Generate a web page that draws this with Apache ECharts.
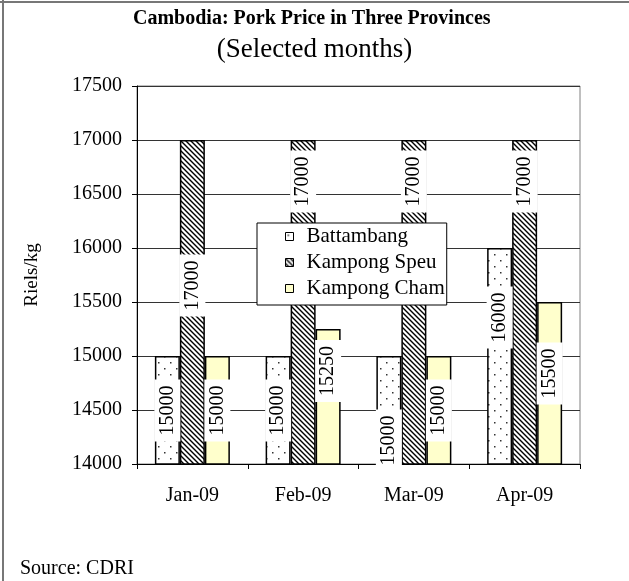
<!DOCTYPE html>
<html>
<head>
<meta charset="utf-8">
<script src="https://cdn.jsdelivr.net/npm/echarts@6/dist/echarts.min.js"></script>
<style>
    html, body {margin: 0; padding: 0; background: #fff;}
    #pork {width: 629px; height: 581px;}
</style>
</head>
<body>
<div id="pork"></div>
<script>
const months = ['Jan-09', 'Feb-09', 'Mar-09', 'Apr-09'];
const battambang = [15000, 15000, 15000, 16000];
const kampongSpeu = [17000, 17000, 17000, 17000];
const kampongCham = [15000, 15250, 15000, 15500];
const yTicks = [14000, 14500, 15000, 15500, 16000, 16500, 17000, 17500];

// vertical shift of each value label (px, down is positive), moved by hand in the original
const battShift = [0, 0, 30, -39];
const speuShift = [-17, -121, -121, -121];
const chamShift = [0, -26, 0, -10];

const font = 'Liberation Serif, Times New Roman, serif';

// fill patterns
function dotPattern() {
    const c = document.createElement('canvas');
    c.width = 12; c.height = 12;
    const ctx = c.getContext('2d');
    ctx.fillStyle = '#fff';
    ctx.fillRect(0, 0, 12, 12);
    ctx.fillStyle = '#333';
    ctx.fillRect(2, 2, 1.5, 1.5);
    ctx.fillRect(8, 8, 1.5, 1.5);
    return c;
}

function hatchPattern() {
    const c = document.createElement('canvas');
    c.width = 5; c.height = 5;
    const ctx = c.getContext('2d');
    ctx.fillStyle = '#fff';
    ctx.fillRect(0, 0, 5, 5);
    ctx.strokeStyle = '#000';
    ctx.lineWidth = 1.4;
    ctx.beginPath();
    ctx.moveTo(-1, -1); ctx.lineTo(6, 6);
    ctx.moveTo(-1, 4); ctx.lineTo(1, 6);
    ctx.moveTo(4, -1); ctx.lineTo(6, 1);
    ctx.stroke();
    return c;
}

// label is rotated 90deg, so its offset is in the rotated frame: x points up
function withLabels(values, shifts) {
    return values.map((v, i) => ({
        value: v,
        label: {offset: [-shifts[i], 0]}
    }));
}

const label = {
    show: true,
    position: 'inside',
    rotate: 90,
    color: '#000',
    fontFamily: font,
    fontSize: 20,
    backgroundColor: '#fff',
    padding: [3, 6]
};

const barStyle = (fill) => ({
    color: fill,
    borderColor: '#000',
    borderWidth: 1.5
});

const chart = echarts.init(document.getElementById('pork'));
chart.setOption({
    animation: false,
    backgroundColor: '#fff',
    title: [{
        text: 'Cambodia: Pork Price in Three Provinces',
        left: 128,
        top: 4,
        textStyle: {fontFamily: font, fontSize: 20, fontWeight: 'bold', color: '#000'}
    }, {
        text: '(Selected months)',
        left: 'center',
        top: 31,
        textStyle: {fontFamily: font, fontSize: 27, fontWeight: 'normal', color: '#000'}
    }],
    legend: {
        orient: 'vertical',
        left: 257,
        top: 223,
        padding: [3, 2, 6, 28],
        itemGap: 5,
        itemWidth: 8,
        itemHeight: 8,
        icon: 'rect',
        backgroundColor: '#fff',
        borderColor: '#000',
        borderWidth: 1,
        itemStyle: {borderColor: '#000', borderWidth: 1},
        textStyle: {fontFamily: font, fontSize: 21, color: '#000', padding: [0, 0, 0, 8]},
        data: ['Battambang', 'Kampong Speu', 'Kampong Cham']
    },
    grid: {
        left: 137,
        right: 49,
        top: 86,
        bottom: 117,
        show: true,
        borderColor: '#808080',
        borderWidth: 1
    },
    xAxis: {
        type: 'category',
        data: months,
        axisLine: {lineStyle: {color: '#000', width: 1}},
        axisTick: {show: true, length: 5, lineStyle: {color: '#000'}},
        axisLabel: {fontFamily: font, fontSize: 20, color: '#000', margin: 22}
    },
    yAxis: {
        type: 'value',
        min: yTicks[0],
        max: yTicks[yTicks.length - 1],
        interval: 500,
        name: 'Riels/kg',
        nameLocation: 'middle',
        nameGap: 95,
        nameTextStyle: {fontFamily: font, fontSize: 19, color: '#000'},
        axisLine: {show: true, lineStyle: {color: '#000', width: 1}},
        axisTick: {show: true, length: 5, lineStyle: {color: '#000'}},
        axisLabel: {
            fontFamily: font, fontSize: 20, color: '#000', margin: 15,
            formatter: (v) => String(v)
        },
        splitLine: {lineStyle: {color: '#333', width: 1}}
    },
    series: [{
        name: 'Battambang',
        type: 'bar',
        barWidth: 25,
        barGap: '0%',
        itemStyle: barStyle({image: dotPattern(), repeat: 'repeat'}),
        label: label,
        data: withLabels(battambang, battShift)
    }, {
        name: 'Kampong Speu',
        type: 'bar',
        barWidth: 25,
        barGap: '0%',
        itemStyle: barStyle({image: hatchPattern(), repeat: 'repeat'}),
        label: label,
        data: withLabels(kampongSpeu, speuShift)
    }, {
        name: 'Kampong Cham',
        type: 'bar',
        barWidth: 25,
        barGap: '0%',
        itemStyle: barStyle('#ffffcc'),
        label: label,
        data: withLabels(kampongCham, chamShift)
    }],
    graphic: [{
        type: 'line',
        shape: {x1: 3, y1: 0, x2: 3, y2: 581},
        style: {stroke: '#777', lineWidth: 2}
    }, {
        type: 'line',
        shape: {x1: 0, y1: 2, x2: 629, y2: 2},
        style: {stroke: '#777', lineWidth: 2}
    }, {
        type: 'text',
        left: 20,
        top: 559,
        style: {text: 'Source: CDRI', font: '20px ' + font, fill: '#000'}
    }]
});
</script>
</body>
</html>
